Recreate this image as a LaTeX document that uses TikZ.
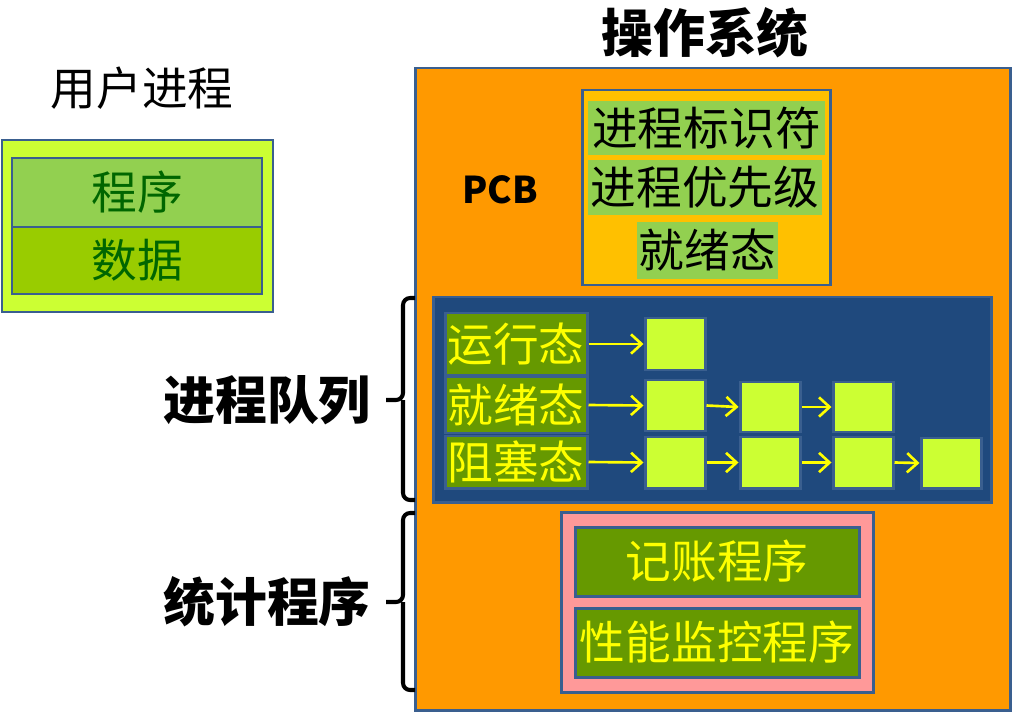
\documentclass[tikz,border=0pt]{standalone}
\usepackage{fontspec}
\setmainfont{Noto Sans CJK SC}
\usetikzlibrary{arrows.meta,fit}
\definecolor{bord}{HTML}{3A5F8F}
\definecolor{lime}{HTML}{CCFF33}
\definecolor{lgreen}{HTML}{92D050}
\definecolor{ygreen}{HTML}{99CC00}
\definecolor{olive}{HTML}{669900}
\definecolor{dgreen}{HTML}{006600}
\definecolor{osorange}{HTML}{FF9900}
\definecolor{pcbgold}{HTML}{FFC000}
\definecolor{navy}{HTML}{1F497D}
\definecolor{pink}{HTML}{FF9999}
\definecolor{yel}{HTML}{FFFF00}
\tikzset{
  box/.style={draw=bord, line width=1.7pt, inner sep=0pt},
  plain/.style={inner sep=0pt},
  txt/.style={font=\fontsize{26}{30}\selectfont, inner sep=0pt},
  big/.style={font=\fontsize{29.5}{34}\selectfont\bfseries},
  sq/.style={box, fill=lime},
  arr/.style={draw=yel, line width=1.5pt, -{Straight Barb[length=6pt,width=11pt]}},
  brace/.style={draw=black, line width=2.3pt, rounded corners=4pt}
}
\begin{document}
\begin{tikzpicture}[x=0.02cm,y=-0.02cm]
\useasboundingbox (0,0) rectangle (1013,713);
% user process
\node[txt] (utitle) at (142,88) {用户进程};
\node[box, fill=lime, fit={(2,140) (273,312)}] (ubox) {};
\node[box, fill=lgreen, fit={(12,158) (262,227)}] (prog) {};
\node[txt, text=dgreen] (progt) at (prog.center) {程序};
\node[box, fill=ygreen, fit={(12,227) (262,294)}] (data) {};
\node[txt, text=dgreen] (datat) at (data.center) {数据};
% OS
\node[big, font=\fontsize{29.5}{34}\selectfont\bfseries] (ostitle) at (705,33) {操作系统};
\node[box, fill=osorange, fit={(415,68) (1010,710)}] (os) {};
\node[font=\fontsize{21}{24}\selectfont\bfseries] (pcblabel) at (500,190) {PCB};
\node[box, fill=pcbgold, fit={(582,90) (830,285)}] (pcb) {};
\node[plain, fill=lgreen, fit={(588,101) (825,155)}] (pid) {};
\node[txt] (pidt) at (pid.center) {进程标识符};
\node[plain, fill=lgreen, fit={(588,160) (822,215)}] (prio) {};
\node[txt] (priot) at (prio.center) {进程优先级};
\node[plain, fill=lgreen, fit={(637,222) (778,279)}] (state) {};
\node[txt] (statet) at (state.center) {就绪态};
% queues
\node[box, fill=navy, fit={(433,297) (991,502)}] (queue) {};
\node[box, fill=olive, fit={(445,313) (587,375)}] (run) {};
\node[txt, text=yel] (runt) at (run.center) {运行态};
\node[box, fill=olive, fit={(445,377) (587,433)}] (ready) {};
\node[txt, text=yel] (readyt) at (ready.center) {就绪态};
\node[box, fill=olive, fit={(445,436) (587,488)}] (block) {};
\node[txt, text=yel] (blockt) at (block.center) {阻塞态};
\node[sq, fit={(645,318) (705,370)}] (r1) {};
\node[sq, fit={(645,380) (705,431)}] (q1) {};
\node[sq, fit={(740,382) (800,432)}] (q2) {};
\node[sq, fit={(833,382) (893,432)}] (q3) {};
\node[sq, fit={(645,437) (705,488)}] (b1) {};
\node[sq, fit={(740,437) (800,488)}] (b2) {};
\node[sq, fit={(833,437) (893,488)}] (b3) {};
\node[sq, fit={(921,438) (981,488)}] (b4) {};
\draw[arr] (run.east) -- (r1.west);
\draw[arr] (ready.east) -- (q1.west);
\draw[arr] (q1.east) -- (q2.west);
\draw[arr] (q2.east) -- (q3.west);
\draw[arr] (block.east) -- (b1.west);
\draw[arr] (b1.east) -- (b2.west);
\draw[arr] (b2.east) -- (b3.west);
\draw[arr] (b3.east) -- (b4.west);
% statistics
\node[box, fill=pink, fit={(561,512) (873,692)}] (stat) {};
\node[box, fill=olive, fit={(575,527) (859,596)}] (acct) {};
\node[txt, text=yel] (acctt) at (acct.center) {记账程序};
\node[box, fill=olive, fit={(575,608) (859,677)}] (perf) {};
\node[txt, text=yel] (perft) at (perf.center) {性能监控程序};
% braces
\coordinate (t1) at (415,298);
\coordinate (m1) at (386,400);
\coordinate (e1) at (415,500);
\draw[brace] (t1) -- (403,298) -- (403,400) -- (m1);
\draw[brace] (403,400) -- (403,500) -- (e1);
\node[big, anchor=east] (qlabel) at (377,400) {进程队列};
\coordinate (t2) at (415,513);
\coordinate (m2) at (386,602);
\coordinate (e2) at (415,690);
\draw[brace] (t2) -- (403,513) -- (403,602) -- (m2);
\draw[brace] (403,602) -- (403,690) -- (e2);
\node[big, anchor=east] (slabel) at (377,602) {统计程序};
\end{tikzpicture}
\end{document}
